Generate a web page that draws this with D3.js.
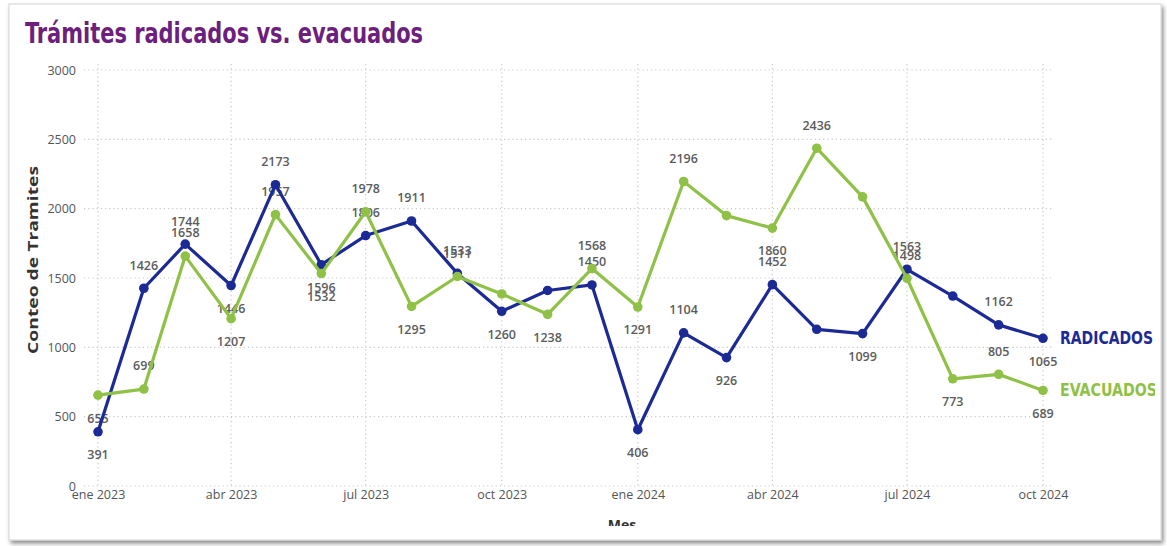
<!DOCTYPE html>
<html>
<head>
<meta charset="utf-8">
<script src="https://cdn.jsdelivr.net/npm/d3@7"></script>
<style>
  body { margin: 0; background: #fff; }
  svg { display: block; }
</style>
</head>
<body>
<div id="container"></div>
<script>
// meses ene 2023 .. oct 2024
let months = d3.range(22).map(i => new Date(2023, i, 1));

let radicados = [391, 1426, 1744, 1446, 2173, 1596, 1806, 1911, 1533, 1260, 1410, 1450,
                 406, 1104, 926, 1452, 1130, 1099, 1563, 1370, 1162, 1065];
let evacuados = [655, 699, 1658, 1207, 1957, 1532, 1978, 1295, 1511, 1385, 1238, 1568,
                 1291, 2196, 1950, 1860, 2436, 2085, 1498, 773, 805, 689];

// donde va la etiqueta de cada punto: a = arriba, b = abajo, '' = oculta
let radLabel = ['b','a','a','b','a','b','a','a','a','b','','a','b','a','b','a','','b','a','','a','b'];
let evaLabel = ['b','a','a','b','a','b','a','b','a','','b','a','b','a','','b','a','','a','b','a','b'];

let yTicks = [0, 500, 1000, 1500, 2000, 2500, 3000];
let mesNombres = ['ene','feb','mar','abr','may','jun','jul','ago','sep','oct','nov','dic'];

let blue = '#1c2a96';
let green = '#8fc146';
let narrow = '"DejaVu Sans Condensed", "DejaVu Sans", sans-serif';
let sans = '"Open Sans", "DejaVu Sans", sans-serif';

let W = 1167, H = 546;

let viz = d3.select('#container')
    .append('svg')
    .attr('width', W)
    .attr('height', H);

// tarjeta con sombra
let defs = viz.append('defs');
let filt = defs.append('filter').attr('id', 'shadow')
    .attr('x', '-5%').attr('y', '-5%').attr('width', '110%').attr('height', '115%');
filt.append('feDropShadow').attr('dx', 2).attr('dy', 3).attr('stdDeviation', 2)
    .attr('flood-color', '#000').attr('flood-opacity', 0.45);

defs.append('clipPath').attr('id', 'cardclip')
    .append('rect').attr('x', 9).attr('y', 4).attr('width', 1146).attr('height', 522);

viz.append('rect')
    .attr('x', 9).attr('y', 4)
    .attr('width', 1152).attr('height', 536)
    .attr('fill', '#fff')
    .attr('stroke', '#d4d4d4')
    .attr('filter', 'url(#shadow)');

let chart = viz.append('g').attr('clip-path', 'url(#cardclip)');

let x = d3.scaleTime()
    .domain([months[0], months[months.length - 1]])
    .range([98, 1043]);

let y = d3.scaleLinear()
    .domain([0, 3000])
    .range([486, 70]);

let xTicks = months.filter(d => d.getMonth() % 3 == 0);

// titulo
chart.append('text')
    .attr('x', 25).attr('y', 43)
    .attr('font-family', narrow)
    .attr('font-weight', 'bold')
    .attr('font-size', 28)
    .attr('textLength', 398)
    .attr('lengthAdjust', 'spacingAndGlyphs')
    .attr('fill', '#6c1f7d')
    .text('Trámites radicados vs. evacuados');

// rejilla
chart.append('g').selectAll('line').data(yTicks).enter()
    .append('line')
    .attr('x1', 84).attr('x2', 1052)
    .attr('y1', d => y(d)).attr('y2', d => y(d))
    .attr('stroke', '#c9c9c9')
    .attr('stroke-width', 1.2)
    .attr('stroke-dasharray', '1.2,3');

chart.append('g').selectAll('line').data(xTicks).enter()
    .append('line')
    .attr('x1', d => x(d)).attr('x2', d => x(d))
    .attr('y1', 64).attr('y2', 488)
    .attr('stroke', '#c9c9c9')
    .attr('stroke-width', 1.2)
    .attr('stroke-dasharray', '1.2,3');

// ejes
let yAxis = d3.axisLeft(y).tickValues(yTicks).tickSize(0).tickPadding(0)
    .tickFormat(d3.format('d'));
let yg = chart.append('g').attr('transform', 'translate(76,0)').call(yAxis);
yg.select('.domain').remove();
yg.selectAll('text')
    .attr('font-family', sans)
    .attr('font-size', 12.5)
    .attr('fill', '#555');

let xAxis = d3.axisBottom(x).tickValues(xTicks).tickSize(0).tickPadding(0)
    .tickFormat(d => mesNombres[d.getMonth()] + ' ' + d.getFullYear());
let xg = chart.append('g').attr('transform', 'translate(0,490)').call(xAxis);
xg.select('.domain').remove();
xg.selectAll('text')
    .attr('font-family', sans)
    .attr('font-size', 12.5)
    .attr('fill', '#555');

// titulos de ejes
chart.append('text')
    .attr('transform', 'translate(38,260) rotate(-90)')
    .attr('text-anchor', 'middle')
    .attr('font-family', sans)
    .attr('font-weight', 'bold')
    .attr('font-size', 14)
    .attr('textLength', 188)
    .attr('lengthAdjust', 'spacingAndGlyphs')
    .attr('fill', '#333')
    .text('Conteo de Tramites');

chart.append('text')
    .attr('x', 622).attr('y', 530)
    .attr('text-anchor', 'middle')
    .attr('font-family', sans)
    .attr('font-weight', 'bold')
    .attr('font-size', 14)
    .attr('fill', '#333')
    .text('Mes');

// series
let series = [
    { name: 'RADICADOS', values: radicados, labels: radLabel, color: blue, len: 93 },
    { name: 'EVACUADOS', values: evacuados, labels: evaLabel, color: green, len: 97 }
];

// etiquetas debajo de las lineas
series.forEach(function (s) {
    let pts = s.values.map((v, i) => ({ v: v, date: months[i], pos: s.labels[i] }))
        .filter(p => p.pos != '');
    chart.append('g').selectAll('text').data(pts).enter()
        .append('text')
        .attr('x', p => x(p.date))
        .attr('y', p => y(p.v) + (p.pos == 'a' ? -23 : 23))
        .attr('dy', '0.35em')
        .attr('text-anchor', 'middle')
        .attr('font-family', sans)
        .attr('font-weight', 600)
        .attr('font-size', 12.5)
        .attr('fill', '#5c5c5c')
        .text(p => p.v);
});

let line = d3.line()
    .x((d, i) => x(months[i]))
    .y(d => y(d));

series.forEach(function (s) {
    chart.append('path')
        .datum(s.values)
        .attr('d', line)
        .attr('fill', 'none')
        .attr('stroke', s.color)
        .attr('stroke-width', 3.2)
        .attr('stroke-linejoin', 'round');

    chart.append('g').selectAll('circle').data(s.values).enter()
        .append('circle')
        .attr('cx', (d, i) => x(months[i]))
        .attr('cy', d => y(d))
        .attr('r', 4.8)
        .attr('fill', s.color);

    let last = s.values[s.values.length - 1];
    chart.append('text')
        .attr('x', x(months[months.length - 1]) + 17)
        .attr('y', y(last) - 1)
        .attr('dy', '0.35em')
        .attr('font-family', narrow)
        .attr('font-weight', 'bold')
        .attr('font-size', 18)
        .attr('textLength', s.len)
        .attr('lengthAdjust', 'spacingAndGlyphs')
        .attr('fill', s.color)
        .text(s.name);
});
</script>
</body>
</html>
